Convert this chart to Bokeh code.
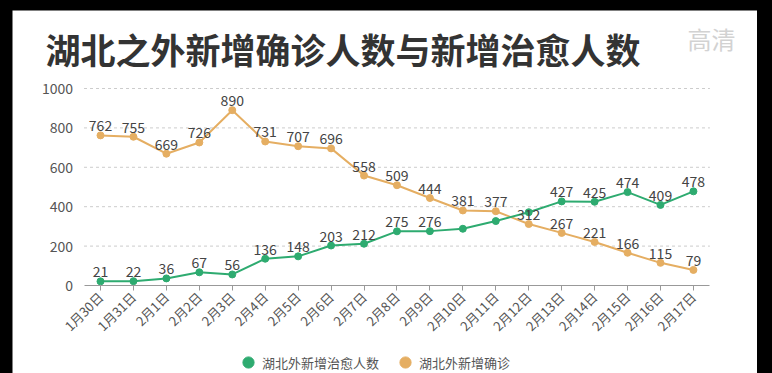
from math import pi
from bokeh.plotting import figure
from bokeh.models import (ColumnDataSource, FixedTicker, Range1d, Legend,
                          LegendItem, Label)
from bokeh.embed import file_html
from bokeh.resources import INLINE

# ---------------- data ----------------
dates = ["1月30日", "1月31日", "2月1日", "2月2日", "2月3日", "2月4日", "2月5日",
         "2月6日", "2月7日", "2月8日", "2月9日", "2月10日", "2月11日", "2月12日",
         "2月13日", "2月14日", "2月15日", "2月16日", "2月17日"]
confirmed = [762, 755, 669, 726, 890, 731, 707, 696, 558, 509, 444, 381, 377,
             312, 267, 221, 166, 115, 79]
cured = [21, 22, 36, 67, 56, 136, 148, 203, 212, 275, 276, 288, 327, 372,
         427, 425, 474, 409, 478]
cured_hidden_labels = ["2月10日", "2月11日", "2月12日"]
y_ticks = [0, 200, 400, 600, 800, 1000]

title_text = "湖北之外新增确诊人数与新增治愈人数"
watermark_text = "高清"
name_cured = "湖北外新增治愈人数"
name_confirmed = "湖北外新增确诊"

FONT = "Noto Sans CJK SC"
GREEN = "#2eab70"
ORANGE = "#e5ae62"
LABEL_C = "#444444"
AXIS_C = "#555555"

xs = list(range(len(dates)))
src_o = ColumnDataSource(dict(x=xs, y=confirmed, t=[str(v) for v in confirmed]))
src_g = ColumnDataSource(dict(x=xs, y=cured, t=[str(v) for v in cured]))
gl = [(i, v) for i, d, v in zip(xs, dates, cured) if d not in cured_hidden_labels]
src_gl = ColumnDataSource(dict(x=[i for i, _ in gl], y=[v for _, v in gl],
                               t=[str(v) for _, v in gl]))
lo, hi = -0.5, len(dates) - 0.5
src_grid = ColumnDataSource(dict(x0=[lo] * (len(y_ticks) - 1),
                                 x1=[hi] * (len(y_ticks) - 1), y=y_ticks[1:]))

# the frame covers the whole white panel; both axes are pinned inside it
p = figure(width=745, height=363, x_range=Range1d(-2.6715, 19.945),
           y_range=Range1d(-446.7, 1395.9), output_backend="svg",
           toolbar_location=None, min_border_left=0, min_border_right=0,
           min_border_top=0, min_border_bottom=0)
p.outline_line_color = None
p.outline_line_alpha = 0
p.background_fill_color = "white"
p.border_fill_color = "white"
p.xgrid.visible = False
p.ygrid.visible = False

# y axis
p.yaxis.fixed_location = lo
p.yaxis.ticker = FixedTicker(ticks=y_ticks)
p.yaxis.axis_line_color = None
p.yaxis.major_tick_line_color = None
p.yaxis.minor_tick_line_color = None
p.yaxis.major_label_text_font = FONT
p.yaxis.major_label_text_font_size = "14px"
p.yaxis.major_label_text_color = AXIS_C
p.yaxis.major_label_standoff = 5

# x axis
p.xaxis.fixed_location = 0
p.xaxis.bounds = (lo, hi)
p.xaxis.ticker = FixedTicker(ticks=xs)
p.xaxis.major_label_overrides = {i: d for i, d in zip(xs, dates)}
p.xaxis.axis_line_color = "#999999"
p.xaxis.major_tick_line_color = "#999999"
p.xaxis.minor_tick_line_color = None
p.xaxis.major_tick_out = 5
p.xaxis.major_tick_in = 0
p.xaxis.major_label_orientation = pi / 4
p.xaxis.major_label_text_font = FONT
p.xaxis.major_label_text_font_size = "13px"
p.xaxis.major_label_text_color = AXIS_C
p.xaxis.major_label_standoff = 4

# dashed value grid
p.segment("x0", "y", "x1", "y", source=src_grid, line_color="#cccccc",
          line_dash="3 3", line_width=1)

# series
p.line("x", "y", source=src_o, color=ORANGE, line_width=2)
p.line("x", "y", source=src_g, color=GREEN, line_width=2)
r_o = p.scatter("x", "y", source=src_o, size=7, color=ORANGE)
r_g = p.scatter("x", "y", source=src_g, size=7, color=GREEN)

for s in (src_o, src_gl):
    p.text("x", "y", text="t", source=s, text_align="center", text_baseline="bottom",
           y_offset=-4, text_font_size="14px", text_color=LABEL_C,
           text_font={"value": FONT})

# title and watermark
p.add_layout(Label(x=33, y=325, x_units="screen", y_units="screen", text=title_text,
                   text_font=FONT, text_font_size="35px", text_font_style="bold",
                   text_color="#333333", text_baseline="middle"))
p.add_layout(Label(x=675, y=335, x_units="screen", y_units="screen",
                   text=watermark_text, text_font=FONT, text_font_size="24px",
                   text_color="#d2d2d2", text_baseline="middle"))

legend = Legend(items=[LegendItem(label=name_cured, renderers=[r_g]),
                       LegendItem(label=name_confirmed, renderers=[r_o])],
                location=(222, -3), orientation="horizontal", glyph_width=28,
                glyph_height=28, label_standoff=0, spacing=12, padding=0, margin=0,
                border_line_color=None, background_fill_alpha=0,
                label_text_font=FONT, label_text_font_size="13px",
                label_text_color=AXIS_C)
p.add_layout(legend)

try:
    from jinja2 import Template
    tmpl = Template("{% extends base %}\n{% block postamble %}"
                    "<style>html,body{background:#000 !important;}"
                    "body{padding:10px 0 0 12px !important;overflow:hidden;}</style>"
                    "{% endblock %}")
    html = file_html(p, INLINE, template=tmpl)
except Exception:
    html = file_html(p, INLINE)
open("out.html", "w").write(html)
